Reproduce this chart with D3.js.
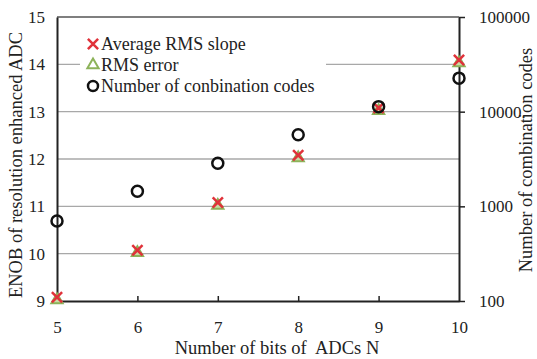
<!DOCTYPE html>
<html>
<head>
<meta charset="utf-8">
<script src="https://cdn.jsdelivr.net/npm/d3@7"></script>
<style>
  body { margin: 0; background: #fff; }
</style>
</head>
<body>
<div id="chart"></div>
<script>
// data
const bits = [5, 6, 7, 8, 9, 10];
const rmsSlope = [9.08, 10.07, 11.08, 12.08, 13.08, 14.09];
const rmsError = [9.02, 10.02, 11.02, 12.02, 13.02, 14.03];
const comboCodes = [700, 1440, 2850, 5700, 11300, 22600];
const leftTicks = [9, 10, 11, 12, 13, 14, 15];
const rightTicks = [100, 1000, 10000, 100000];
const rightTickLabels = ["100", "1000", "10000.", "100000"];

const width = 537, height = 359;
const margin = {top: 17, right: 78, bottom: 58, left: 57};
const serifFont = 'Liberation Serif';

const svg = d3.select('#chart')
  .append('svg')
  .attr('width', width)
  .attr('height', height)
  .attr('font-family', serifFont);

const x = d3.scaleLinear().domain([5, 10]).range([margin.left, width - margin.right]);
const y = d3.scaleLinear().domain([9, 15]).range([height - margin.bottom, margin.top]);
const y2 = d3.scaleLog().domain([100, 100000]).range([height - margin.bottom, margin.top]);

// grid lines
svg.append('g')
  .selectAll('line')
  .data(leftTicks.filter(d => d > 9))
  .enter()
  .append('line')
  .attr('x1', x(5)).attr('x2', x(10))
  .attr('y1', d => y(d)).attr('y2', d => y(d))
  .attr('stroke', d => d === 15 ? '#555' : '#a8a8a8')
  .attr('stroke-width', 1.3);

// axes
const xAxis = svg.append('g')
  .attr('transform', 'translate(0,' + y(9) + ')')
  .call(d3.axisBottom(x).tickValues(bits).tickFormat(d3.format('d')).tickSizeInner(-5).tickSizeOuter(0).tickPadding(20));
const yAxis = svg.append('g')
  .attr('transform', 'translate(' + x(5) + ',0)')
  .call(d3.axisLeft(y).tickValues(leftTicks).tickFormat(d3.format('d')).tickSize(0).tickPadding(12));
const y2Axis = svg.append('g')
  .attr('transform', 'translate(' + x(10) + ',0)')
  .call(d3.axisRight(y2).tickValues(rightTicks).tickFormat((d, i) => rightTickLabels[i]).tickSize(6).tickSizeOuter(0).tickPadding(14));

[xAxis, yAxis, y2Axis].forEach(a => {
  a.attr('font-family', serifFont).attr('font-size', 17);
  a.select('.domain').attr('stroke', '#222').attr('stroke-width', 2);
  a.selectAll('.tick line').attr('stroke', '#222').attr('stroke-width', 1.5);
  a.selectAll('text').attr('fill', '#222');
});
xAxis.selectAll('.tick').filter(d => d === 5 || d === 10).select('line').remove();

// axis titles
svg.append('text')
  .attr('x', 277).attr('y', 354)
  .attr('text-anchor', 'middle')
  .attr('font-size', 18.5).attr('fill', '#222')
  .text('Number of bits of\u00a0 ADCs N');
svg.append('text')
  .attr('transform', 'translate(22,165) rotate(-90)')
  .attr('text-anchor', 'middle')
  .attr('font-size', 18.5).attr('fill', '#222')
  .text('ENOB of resolution enhanced ADC');
svg.append('text')
  .attr('transform', 'translate(532,160) rotate(-90)')
  .attr('text-anchor', 'middle')
  .attr('font-size', 18.5).attr('fill', '#222')
  .text('Number of combination codes');

// markers
const triPath = d3.symbol().type(d3.symbolTriangle).size(55);
const crossPath = d3.symbol().type(d3.symbolX).size(70);

svg.append('g')
  .selectAll('path')
  .data(bits)
  .enter()
  .append('path')
  .attr('d', triPath)
  .attr('transform', (d, i) => 'translate(' + x(d) + ',' + y(rmsError[i]) + ')')
  .attr('fill', '#c9dca6')
  .attr('stroke', '#8db35a')
  .attr('stroke-width', 2);

svg.append('g')
  .selectAll('path')
  .data(bits)
  .enter()
  .append('path')
  .attr('d', crossPath)
  .attr('transform', (d, i) => 'translate(' + x(d) + ',' + y(rmsSlope[i]) + ')')
  .attr('fill', 'none')
  .attr('stroke', '#e0323a')
  .attr('stroke-width', 2.5);

svg.append('g')
  .selectAll('circle')
  .data(bits)
  .enter()
  .append('circle')
  .attr('cx', d => x(d))
  .attr('cy', (d, i) => y2(comboCodes[i]))
  .attr('r', 5.5)
  .attr('fill', 'none')
  .attr('stroke', '#111')
  .attr('stroke-width', 2.5);

// legend
const legend = svg.append('g').attr('transform', 'translate(80,30)');
legend.append('rect')
  .attr('width', 246).attr('height', 70)
  .attr('fill', '#fff');
const items = [
  {label: 'Average RMS slope', kind: 'x'},
  {label: 'RMS error', kind: 'tri'},
  {label: 'Number of conbination codes', kind: 'circle'}
];
items.forEach((it, i) => {
  const g = legend.append('g').attr('transform', 'translate(13,' + (14 + i * 21) + ')');
  if (it.kind === 'x') {
    g.append('path').attr('d', crossPath).attr('fill', 'none').attr('stroke', '#e0323a').attr('stroke-width', 2.5);
  } else if (it.kind === 'tri') {
    g.append('path').attr('d', triPath).attr('fill', 'none').attr('stroke', '#8db35a').attr('stroke-width', 2);
  } else {
    g.append('circle').attr('r', 5).attr('fill', 'none').attr('stroke', '#111').attr('stroke-width', 2.5);
  }
  g.append('text')
    .attr('x', 8).attr('y', 6)
    .attr('font-size', 18).attr('fill', '#222')
    .text(it.label);
});
</script>
</body>
</html>
